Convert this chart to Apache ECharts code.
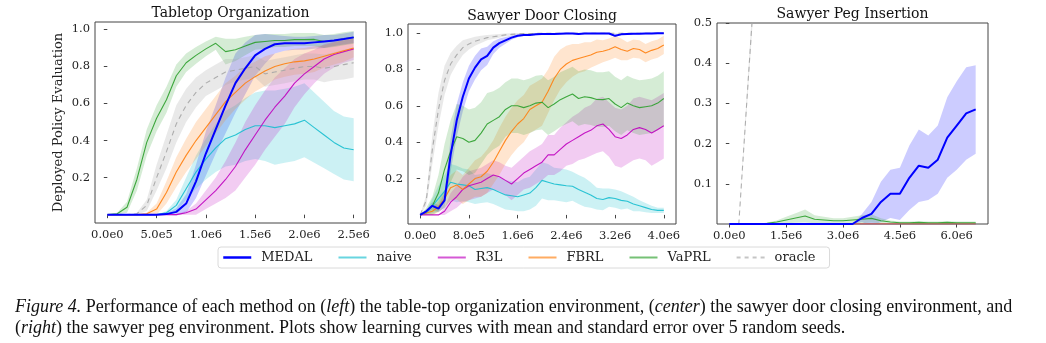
<!DOCTYPE html>
<html><head><meta charset="utf-8">
<script src="https://cdn.jsdelivr.net/npm/echarts@6/dist/echarts.min.js"></script>
<style>
html,body{margin:0;padding:0;background:#fff;}
#c{width:1046px;height:343px;position:absolute;left:0;top:0;}
#cap{position:absolute;left:15px;top:296px;font-family:'Liberation Serif',serif;font-size:18px;line-height:21px;color:#111;white-space:nowrap;}
</style></head><body>
<div id="c"></div>
<div id="cap"><i>Figure 4.</i> Performance of each method on (<i>left</i>) the table-top organization environment, (<i>center</i>) the sawyer door closing environment, and<br>(<i>right</i>) the sawyer peg environment. Plots show learning curves with mean and standard error over 5 random seeds.</div>
<script>
// ---------- names / ticks ----------
const methods = ['MEDAL','naive','R3L','FBRL','VaPRL','oracle'];
const lineColors = ['#0000ff','#17becf','#bf00bf','#ff7f0e','#2ca02c','#a6a6a6'];
const titles = ['Tabletop Organization','Sawyer Door Closing','Sawyer Peg Insertion'];
const yName = 'Deployed Policy Evaluation';

const x1Ticks = [0,0.5,1.0,1.5,2.0,2.5];
const x1Labels = ['0.0e0','5.0e5','1.0e6','1.5e6','2.0e6','2.5e6'];
const x2Ticks = [0,0.8,1.6,2.4,3.2,4.0];
const x2Labels = ['0.0e0','8.0e5','1.6e6','2.4e6','3.2e6','4.0e6'];
const x3Ticks = [0,1.5,3.0,4.5,6.0];
const x3Labels = ['0.0e0','1.5e6','3.0e6','4.5e6','6.0e6'];
const y12Ticks = [0.2,0.4,0.6,0.8,1.0];
const y12Labels = ['0.2','0.4','0.6','0.8','1.0'];
const y3Ticks = [0.1,0.2,0.3,0.4,0.5];
const y3Labels = ['0.1','0.2','0.3','0.4','0.5'];

// ---------- panel 1 : Tabletop Organization (x in millions of steps) ----------
const p1X = [0,0.1,0.2,0.3,0.4,0.5,0.6,0.7,0.8,0.9,1.0,1.1,1.2,1.3,1.4,1.5,1.6,1.7,1.8,1.9,2.0,2.1,2.2,2.3,2.4,2.5];
const p1Medal = [0,0,0,0,0,0,0.003,0.015,0.06,0.18,0.33,0.46,0.59,0.71,0.79,0.86,0.895,0.92,0.925,0.925,0.925,0.93,0.935,0.94,0.948,0.957];
const p1MedalErr = [0,0,0,0,0,0.002,0.005,0.02,0.05,0.09,0.12,0.13,0.15,0.16,0.14,0.11,0.08,0.05,0.04,0.035,0.035,0.035,0.035,0.03,0.03,0.03];
const p1Naive = [0,0,0,0,0,0,0.01,0.05,0.14,0.23,0.30,0.36,0.41,0.43,0.46,0.48,0.48,0.47,0.48,0.49,0.51,0.47,0.43,0.39,0.36,0.35];
const p1NaiveErr = [0,0,0,0,0,0,0.01,0.03,0.06,0.09,0.11,0.13,0.15,0.16,0.17,0.18,0.19,0.2,0.2,0.2,0.2,0.19,0.18,0.17,0.17,0.17];
const p1R3l = [0,0,0,0,0,0,0,0,0.01,0.03,0.08,0.13,0.19,0.26,0.35,0.43,0.51,0.58,0.64,0.71,0.76,0.80,0.84,0.865,0.88,0.895];
const p1R3lErr = [0,0,0,0,0,0,0,0.003,0.01,0.03,0.05,0.07,0.1,0.13,0.15,0.16,0.16,0.16,0.15,0.13,0.11,0.09,0.08,0.07,0.06,0.06];
const p1Fbrl = [0,0,0,0,0.005,0.03,0.12,0.23,0.32,0.40,0.47,0.54,0.61,0.66,0.71,0.745,0.775,0.80,0.815,0.825,0.83,0.84,0.855,0.87,0.885,0.90];
const p1FbrlErr = [0,0,0,0,0.005,0.03,0.06,0.08,0.09,0.1,0.1,0.1,0.1,0.09,0.09,0.08,0.08,0.07,0.07,0.07,0.07,0.07,0.06,0.06,0.06,0.05];
const p1Vaprl = [0,0.005,0.04,0.19,0.39,0.52,0.62,0.75,0.82,0.86,0.895,0.925,0.88,0.89,0.91,0.93,0.935,0.94,0.94,0.945,0.945,0.946,0.935,0.94,0.95,0.957];
const p1VaprlErr = [0,0.005,0.03,0.06,0.07,0.07,0.07,0.06,0.05,0.045,0.04,0.035,0.07,0.06,0.05,0.04,0.04,0.035,0.035,0.035,0.035,0.035,0.035,0.035,0.035,0.035];
const p1Oracle = [0,0,0,0.005,0.05,0.2,0.34,0.49,0.59,0.66,0.71,0.74,0.77,0.78,0.79,0.80,0.76,0.77,0.78,0.79,0.80,0.80,0.79,0.80,0.81,0.82];
const p1OracleErr = [0,0,0,0.005,0.03,0.07,0.09,0.1,0.09,0.08,0.07,0.07,0.07,0.06,0.06,0.06,0.07,0.07,0.07,0.07,0.07,0.07,0.075,0.075,0.08,0.08];

// ---------- panel 2 : Sawyer Door Closing ----------
const p2X = [0,0.1,0.2,0.3,0.4,0.5,0.6,0.7,0.8,0.9,1.0,1.1,1.2,1.3,1.4,1.5,1.6,1.7,1.8,1.9,2.0,2.1,2.2,2.3,2.4,2.5,2.6,2.7,2.8,2.9,3.0,3.1,3.2,3.3,3.4,3.5,3.6,3.7,3.8,3.9,4.0];
const p2Medal = [0,0.02,0.05,0.035,0.08,0.33,0.52,0.65,0.75,0.81,0.855,0.875,0.92,0.945,0.96,0.975,0.985,0.99,0.99,0.993,0.995,0.995,0.995,0.997,0.998,0.998,0.995,0.998,0.998,0.998,0.998,0.998,0.985,0.993,0.995,0.996,0.997,0.998,0.998,0.999,0.999];
const p2MedalErr = [0,0.01,0.02,0.02,0.04,0.09,0.09,0.08,0.07,0.065,0.06,0.05,0.035,0.025,0.018,0.012,0.008,0.006,0.005,0.005,0.004,0.004,0.004,0.004,0.004,0.004,0.004,0.004,0.004,0.004,0.004,0.004,0.006,0.004,0.004,0.004,0.004,0.004,0.004,0.004,0.004];
const p2Naive = [0,0.01,0.05,0.09,0.13,0.18,0.17,0.165,0.16,0.14,0.145,0.15,0.14,0.125,0.11,0.105,0.1,0.11,0.12,0.15,0.19,0.18,0.17,0.165,0.16,0.158,0.14,0.125,0.11,0.09,0.085,0.095,0.09,0.08,0.075,0.06,0.05,0.04,0.03,0.025,0.025];
const p2NaiveErr = [0,0.01,0.04,0.07,0.09,0.1,0.1,0.09,0.09,0.08,0.08,0.08,0.08,0.08,0.08,0.08,0.08,0.09,0.09,0.1,0.1,0.1,0.09,0.09,0.09,0.08,0.08,0.08,0.07,0.06,0.06,0.05,0.05,0.05,0.04,0.04,0.03,0.025,0.02,0.015,0.015];
const p2R3l = [0,0,0,0,0.02,0.07,0.1,0.14,0.16,0.17,0.18,0.2,0.22,0.21,0.19,0.17,0.2,0.23,0.25,0.27,0.29,0.33,0.33,0.36,0.39,0.41,0.43,0.45,0.465,0.49,0.5,0.47,0.43,0.42,0.44,0.47,0.48,0.47,0.45,0.47,0.49];
const p2R3lErr = [0,0,0,0,0.02,0.05,0.06,0.07,0.08,0.08,0.08,0.08,0.08,0.08,0.08,0.09,0.09,0.09,0.1,0.1,0.1,0.11,0.11,0.12,0.12,0.13,0.13,0.14,0.14,0.15,0.15,0.15,0.16,0.16,0.16,0.17,0.17,0.17,0.18,0.18,0.18];
const p2Fbrl = [0,0.01,0.02,0.045,0.09,0.15,0.165,0.14,0.17,0.2,0.21,0.24,0.29,0.35,0.41,0.46,0.5,0.53,0.58,0.6,0.62,0.68,0.75,0.8,0.83,0.85,0.86,0.87,0.88,0.895,0.9,0.91,0.925,0.91,0.9,0.915,0.91,0.89,0.905,0.915,0.935];
const p2FbrlErr = [0,0.01,0.02,0.03,0.05,0.07,0.08,0.08,0.09,0.1,0.11,0.12,0.12,0.13,0.13,0.13,0.13,0.13,0.13,0.13,0.13,0.12,0.12,0.11,0.1,0.09,0.08,0.08,0.07,0.07,0.06,0.06,0.06,0.06,0.05,0.05,0.05,0.05,0.05,0.05,0.05];
const p2Vaprl = [0,0.02,0.05,0.12,0.25,0.35,0.43,0.42,0.40,0.41,0.45,0.5,0.52,0.54,0.58,0.60,0.60,0.59,0.60,0.615,0.62,0.59,0.61,0.634,0.65,0.665,0.64,0.65,0.645,0.635,0.634,0.64,0.61,0.59,0.615,0.60,0.59,0.595,0.60,0.615,0.64];
const p2VaprlErr = [0,0.02,0.05,0.1,0.14,0.17,0.18,0.18,0.18,0.18,0.17,0.17,0.16,0.16,0.15,0.15,0.15,0.15,0.15,0.15,0.15,0.15,0.15,0.15,0.15,0.15,0.15,0.15,0.15,0.15,0.15,0.15,0.15,0.15,0.15,0.15,0.15,0.15,0.15,0.15,0.15];
const p2Oracle = [0,0.08,0.36,0.58,0.74,0.83,0.88,0.92,0.94,0.955,0.965,0.975,0.98,0.985,0.99,0.993,0.995,0.997,0.998,0.998,0.999,0.999,0.999,0.999,0.999,0.999,0.999,0.999,0.999,0.999,0.999,0.999,0.999,0.999,0.999,0.999,0.999,0.999,0.999,0.999,0.999];
const p2OracleErr = [0,0.03,0.08,0.09,0.08,0.06,0.05,0.04,0.03,0.025,0.02,0.015,0.012,0.01,0.008,0.006,0.005,0.004,0.003,0.003,0.002,0.002,0.002,0.002,0.002,0.002,0.002,0.002,0.002,0.002,0.002,0.002,0.002,0.002,0.002,0.002,0.002,0.002,0.002,0.002,0.002];

// ---------- panel 3 : Sawyer Peg Insertion ----------
const p3X = [0,0.25,0.5,0.75,1.0,1.25,1.5,1.75,2.0,2.25,2.5,2.75,3.0,3.25,3.5,3.75,4.0,4.25,4.5,4.75,5.0,5.25,5.5,5.75,6.0,6.25,6.5];
const p3Medal = [0,0,0,0,0,0,0,0,0,0,0,0,0,0,0.015,0.025,0.055,0.075,0.075,0.115,0.145,0.14,0.16,0.215,0.245,0.275,0.285];
const p3MedalErr = [0,0,0,0,0,0,0,0,0,0,0,0,0,0,0.01,0.03,0.05,0.06,0.065,0.08,0.09,0.08,0.085,0.1,0.11,0.115,0.11];
const p3Naive = [0,0,0,0,0,0,0,0,0,0,0,0,0,0,0,0,0,0,0,0,0,0,0,0,0,0,0];
const p3NaiveErr = [0,0,0,0,0,0,0,0,0,0,0,0,0,0,0,0,0,0,0,0,0,0,0,0,0,0,0];
const p3R3l = [0,0,0,0,0,0,0,0,0,0,0,0,0,0,0,0,0,0,0,0,0,0,0,0,0,0,0];
const p3R3lErr = [0,0,0,0,0,0,0,0,0,0,0,0,0,0,0,0,0,0,0,0,0,0,0,0,0,0,0];
const p3Fbrl = [0,0,0,0,0,0,0.001,0.001,0.001,0.001,0.001,0,0,0,0,0,0,0,0,0,0,0,0,0,0,0,0];
const p3FbrlErr = [0,0,0,0,0,0,0,0,0,0,0,0,0,0,0,0,0,0,0,0,0,0,0,0,0,0,0];
const p3Vaprl = [0,0,0,0,0.002,0.005,0.01,0.015,0.02,0.012,0.01,0.008,0.008,0.01,0.012,0.014,0.008,0.005,0.003,0.003,0.004,0.003,0.003,0.004,0.003,0.003,0.003];
const p3VaprlErr = [0,0,0,0,0.002,0.004,0.008,0.012,0.016,0.01,0.008,0.006,0.006,0.008,0.01,0.01,0.006,0.004,0.003,0.003,0.003,0.003,0.003,0.003,0.003,0.003,0.003];
const p3Oracle = [0,0,0.36,0.72,0.95,0.99,1,1,1,1,1,1,1,1,1,1,1,1,1,1,1,1,1,1,1,1,1];
const p3OracleErr = [0,0,0.02,0.03,0.03,0.02,0.01,0.01,0.01,0.01,0.01,0.01,0.01,0.01,0.01,0.01,0.01,0.01,0.01,0.01,0.01,0.01,0.01,0.01,0.01,0.01,0.01];

// ---------- build ----------
const panels = [
  {x:p1X, means:[p1Medal,p1Naive,p1R3l,p1Fbrl,p1Vaprl,p1Oracle], errs:[p1MedalErr,p1NaiveErr,p1R3lErr,p1FbrlErr,p1VaprlErr,p1OracleErr]},
  {x:p2X, means:[p2Medal,p2Naive,p2R3l,p2Fbrl,p2Vaprl,p2Oracle], errs:[p2MedalErr,p2NaiveErr,p2R3lErr,p2FbrlErr,p2VaprlErr,p2OracleErr]},
  {x:p3X, means:[p3Medal,p3Naive,p3R3l,p3Fbrl,p3Vaprl,p3Oracle], errs:[p3MedalErr,p3NaiveErr,p3R3lErr,p3FbrlErr,p3VaprlErr,p3OracleErr]}
];
const bandOpacity = [0.2,0.22,0.2,0.2,0.2,0.25];
const FONT = 'DejaVu Serif';
const series = [];
panels.forEach((p, pi) => {
  methods.forEach((m, mi) => {
    const xs = p.x, mean = p.means[mi], err = p.errs[mi];
    series.push({
      type:'custom', name: m + '_band' + pi, xAxisIndex: pi, yAxisIndex: pi, silent:true, z:1,
      data: xs.map((xv,k)=>[xv, mean[k]-err[k], mean[k]+err[k]]),
      renderItem: (params, api) => {
        if (params.dataIndex !== 0) return null;
        const up = xs.map((xv,k)=>api.coord([xv, mean[k]+err[k]]));
        const dn = xs.map((xv,k)=>api.coord([xv, mean[k]-err[k]])).reverse();
        const cs = params.coordSys;
        return {
          type:'polygon', shape:{points: up.concat(dn)},
          style:{fill: lineColors[mi], opacity: bandOpacity[mi], stroke:null},
          clipPath:{type:'rect', shape:{x:cs.x, y:cs.y, width:cs.width, height:cs.height}}
        };
      }
    });
  });
  methods.forEach((m, mi) => {
    const mean = p.means[mi];
    series.push({
      type:'line', name: m, xAxisIndex: pi, yAxisIndex: pi,
      data: p.x.map((xv,k)=>[xv, mean[k]]), symbol:'none', silent:true,
      itemStyle:{color: lineColors[mi]},
      lineStyle:{color: lineColors[mi], width: mi===0 ? 2 : 1.1, type: mi===5 ? [5,4] : 'solid', opacity: mi===0?1:0.9},
      z: mi===0 ? 4 : 3
    });
  });
});

const grids = [
  {left:95, top:22, width:271, height:201},
  {left:408, top:24, width:268, height:200},
  {left:717, top:23, width:271, height:201}
].map(g => Object.assign(g, {show:true, borderColor:'#444', borderWidth:1, backgroundColor:'transparent', containLabel:false}));

const xCfg = [
  {min:-0.125, max:2.625, ticks:x1Ticks, labels:x1Labels},
  {min:-0.2, max:4.2, ticks:x2Ticks, labels:x2Labels},
  {min:-0.325, max:6.825, ticks:x3Ticks, labels:x3Labels}
];
const yCfg = [
  {min:-0.045, max:1.04, ticks:y12Ticks, labels:y12Labels},
  {min:-0.05, max:1.05, ticks:y12Ticks, labels:y12Labels},
  {min:0, max:0.5, ticks:y3Ticks, labels:y3Labels}
];
function lookup(ticks, labels, v){
  for (let i=0;i<ticks.length;i++) if (Math.abs(ticks[i]-v) < 1e-9) return labels[i];
  return '';
}
const xAxis = xCfg.map((c, i) => ({
  type:'value', gridIndex:i, min:c.min, max:c.max,
  axisLine:{show:false}, splitLine:{show:false},
  axisTick:{show:true, length:3.5, lineStyle:{color:'#444', width:1}, customValues:c.ticks},
  axisLabel:{customValues:c.ticks, formatter:v=>lookup(c.ticks,c.labels,v), fontFamily:FONT, fontSize:11.5, color:'#222', margin:6}
}));
const yAxis = yCfg.map((c, i) => ({
  type:'value', gridIndex:i, min:c.min, max:c.max,
  axisLine:{show:false}, splitLine:{show:false},
  axisTick:{show:true, length:3.5, lineStyle:{color:'#444', width:1}, customValues:c.ticks},
  axisLabel:{customValues:c.ticks, formatter:v=>lookup(c.ticks,c.labels,v), fontFamily:FONT, fontSize:11.5, color:'#222', margin:5},
  name: i===0 ? yName : '', nameLocation:'middle', nameGap:30,
  nameTextStyle:{fontFamily:FONT, fontSize:13, color:'#222'}
}));

const titleTops = [6, 9, 7];
const titleCenters = [230.5, 542, 852.5];
const title = titles.map((t,i)=>({
  text:t, left:titleCenters[i], top:titleTops[i], textAlign:'center', padding:0,
  textStyle:{fontFamily:FONT, fontSize:14, fontWeight:'normal', color:'#111'}
}));

const legend = {
  left:218, top:247, orient:'horizontal',
  itemWidth:28, itemHeight:14, itemGap:25,
  padding:[4,14,4,4],
  borderColor:'#dadada', borderWidth:1, borderRadius:3,
  textStyle:{fontFamily:FONT, fontSize:13, color:'#222', padding:[0,0,0,5]},
  selectedMode:false,
  data: methods.map((m,i)=>({
    name:m,
    itemStyle:{opacity:0, borderWidth:0},
    lineStyle:{color:lineColors[i], width: i===0?2.5:2, opacity: i===0?1:0.65, type: i===5?[4,4]:'solid'}
  }))
};

const chart = echarts.init(document.getElementById('c'), null, {renderer:'canvas'});
chart.setOption({
  animation:false,
  backgroundColor:'#fff',
  title, legend, grid:grids, xAxis, yAxis, series
});
</script>
</body></html>
